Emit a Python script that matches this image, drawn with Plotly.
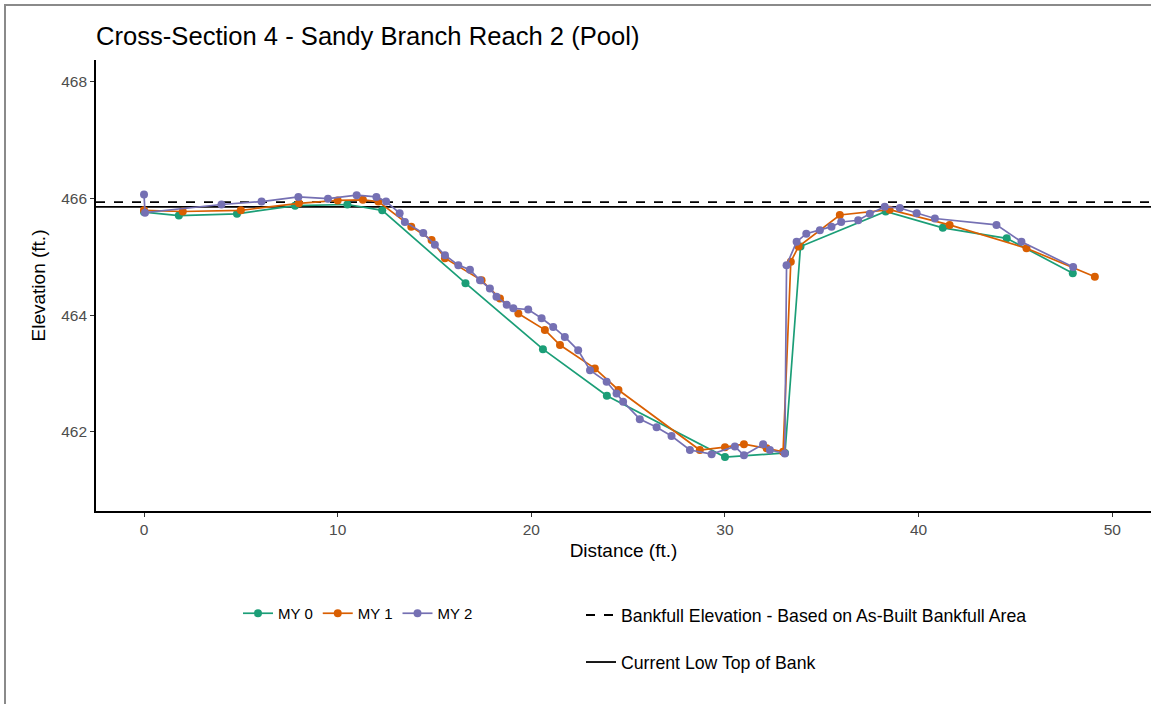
import plotly.graph_objects as go

# ---- data ----
my0_x = [0, 1.8, 4.8, 7.8, 10.5, 12.3, 16.6, 20.6, 23.9, 30.0, 33.1, 33.9, 38.3, 41.25, 44.55, 47.96]
my0_y = [465.77, 465.71, 465.74, 465.88, 465.9, 465.8, 464.55, 463.42, 462.62, 461.57, 461.64,
         465.18, 465.78, 465.5, 465.32, 464.72]

my1_x = [0, 2.0, 5.0, 8.0, 10.0, 11.3, 12.1, 13.8, 14.85, 15.54, 17.43, 18.38, 19.33, 20.7, 21.48,
         23.28, 24.5, 28.7, 30.0, 30.98, 32.15, 33.0, 33.4, 33.8, 35.93, 38.5, 41.6, 45.57, 49.1]
my1_y = [465.8, 465.78, 465.8, 465.92, 465.97, 465.98, 465.95, 465.52, 465.29, 464.98, 464.6, 464.29,
         464.03, 463.75, 463.49, 463.09, 462.72, 461.69, 461.74, 461.79, 461.72, 461.66, 464.92, 465.18,
         465.72, 465.81, 465.55, 465.15, 464.66]

my2_x = [0, 0.05, 4.0, 6.07, 7.97, 9.5, 10.98, 12.0, 12.5, 13.2, 13.47, 14.42, 15.02, 15.54, 16.23,
         16.83, 17.35, 17.86, 18.2, 18.73, 19.07, 19.84, 20.53, 21.13, 21.73, 22.42, 23.03, 23.89, 24.4,
         24.74, 25.6, 26.47, 27.24, 28.19, 29.31, 30.51, 30.98, 31.97, 32.32, 33.09, 33.18, 33.7, 34.2,
         34.9, 35.5, 36.0, 36.88, 37.48, 38.25, 39.03, 39.9, 40.84, 44.02, 45.31, 47.98]
my2_y = [466.07, 465.76, 465.9, 465.95, 466.03, 466.0, 466.06, 466.03, 465.95, 465.75, 465.6, 465.41,
         465.21, 465.03, 464.86, 464.78, 464.6, 464.46, 464.32, 464.18, 464.12, 464.1, 463.95, 463.8,
         463.63, 463.4, 463.06, 462.86, 462.66, 462.52, 462.22, 462.08, 461.93, 461.69, 461.62, 461.75,
         461.6, 461.79, 461.69, 461.63, 464.86, 465.26, 465.4, 465.46, 465.52, 465.6, 465.63, 465.74,
         465.86, 465.84, 465.75, 465.66, 465.55, 465.26, 464.83]

series_names = ["MY 0", "MY 1", "MY 2"]
series_colors = ["#1B9E77", "#D95F02", "#7570B3"]

bankfull_elev = 465.94
low_top_bank = 465.86

x_ticks = [0, 10, 20, 30, 40, 50]
y_ticks = [462, 464, 466, 468]

# ---- figure ----
W, H = 1151, 704
ML, MR, MT, MB = 96, 0, 60, 193

fig = go.Figure()
for xs, ys, nm, col in zip([my0_x, my1_x, my2_x], [my0_y, my1_y, my2_y], series_names, series_colors):
    fig.add_trace(go.Scatter(
        x=xs, y=ys, mode="lines+markers", name=nm,
        line=dict(color=col, width=1.7),
        marker=dict(color=col, size=8),
        legend="legend",
    ))

fig.add_shape(type="line", xref="x domain", x0=0, x1=1, yref="y", y0=bankfull_elev, y1=bankfull_elev,
              line=dict(color="black", width=1.8, dash="dash"), layer="below",
              showlegend=True, name="Bankfull Elevation - Based on As-Built Bankfull Area",
              legend="legend2", legendgroup="bkf")
fig.add_shape(type="line", xref="x domain", x0=0, x1=1, yref="y", y0=low_top_bank, y1=low_top_bank,
              line=dict(color="black", width=1.8), layer="below",
              showlegend=True, name="Current Low Top of Bank",
              legend="legend2", legendgroup="ltob")

pw = W - ML - MR
ph = H - MT - MB


def px_x(p):
    return (p - ML) / pw


def px_y(p):
    return (H - MB - p) / ph


# outer grey frame
fig.add_shape(type="rect", xref="paper", yref="paper",
              x0=px_x(5), x1=px_x(W + 10), y0=px_y(H + 10), y1=px_y(5),
              line=dict(color="#8a8a8a", width=2), fillcolor="rgba(0,0,0,0)", layer="below")

fig.update_layout(
    width=W, height=H,
    margin=dict(l=ML, r=MR, t=MT, b=MB),
    paper_bgcolor="white", plot_bgcolor="white",
    font=dict(family="Liberation Sans, Arial, sans-serif", color="black"),
    title=dict(text="Cross-Section 4 - Sandy Branch Reach 2 (Pool)", x=96 / W, xanchor="left",
               xref="container", y=1 - 36 / H, yanchor="middle", yref="container",
               font=dict(size=25.6, color="black")),
    xaxis=dict(range=[-2.48, 52.0], tickvals=x_ticks, ticks="outside", ticklen=4, tickwidth=1.2,
               tickcolor="#333333", showline=True, linecolor="black", linewidth=1.6,
               showgrid=False, zeroline=False,
               tickfont=dict(size=15.5, color="#4D4D4D"),
               title=dict(text="Distance (ft.)", font=dict(size=19, color="black"), standoff=6)),
    yaxis=dict(range=[460.645, 468.377], tickvals=y_ticks, ticks="outside", ticklen=4, tickwidth=1.2,
               tickcolor="#333333", showline=True, linecolor="black", linewidth=1.6,
               showgrid=False, zeroline=False,
               tickfont=dict(size=15.5, color="#4D4D4D"),
               title=dict(text="Elevation (ft.)", font=dict(size=19, color="black"), standoff=11)),
    legend=dict(orientation="h", x=px_x(238), xanchor="left", y=px_y(597), yanchor="top",
                font=dict(size=15, color="black"), bgcolor="rgba(0,0,0,0)", itemwidth=30),
    legend2=dict(orientation="v", x=px_x(581), xanchor="left", y=px_y(597), yanchor="top",
                 font=dict(size=17.7, color="black"), bgcolor="rgba(0,0,0,0)", tracegroupgap=21,
                 itemwidth=30),
    showlegend=True,
)

fig.write_html("out.html")
